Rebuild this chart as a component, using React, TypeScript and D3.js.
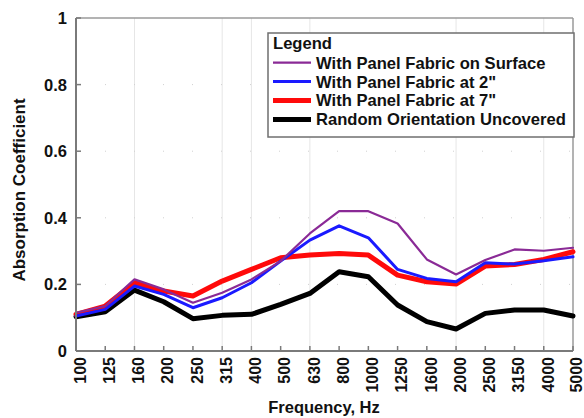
import React from "react";
import * as d3 from "d3";

const frequencies = ["100","125","160","200","250","315","400","500","630","800","1000","1250","1600","2000","2500","3150","4000","5000"];
const surface = [0.115,0.135,0.215,0.185,0.145,0.175,0.215,0.27,0.353,0.42,0.42,0.383,0.275,0.23,0.273,0.305,0.301,0.31];
const at2in = [0.105,0.125,0.195,0.17,0.13,0.16,0.205,0.27,0.333,0.376,0.34,0.245,0.218,0.208,0.265,0.261,0.271,0.283];
const at7in = [0.11,0.135,0.205,0.18,0.165,0.21,0.245,0.28,0.288,0.293,0.288,0.228,0.208,0.201,0.255,0.26,0.275,0.298];
const uncovered = [0.103,0.118,0.183,0.148,0.097,0.107,0.11,0.14,0.173,0.238,0.223,0.138,0.088,0.066,0.113,0.123,0.123,0.105];
const yTicks = [0, 0.2, 0.4, 0.6, 0.8, 1];
const yTickLabels = ["0", "0.2", "0.4", "0.6", "0.8", "1"];
const xGridAt = ["160", "315", "400", "630", "2000", "4000"];

const seriesNames = [
  "With Panel Fabric on Surface",
  'With Panel Fabric at 2"',
  'With Panel Fabric at 7"',
  "Random Orientation Uncovered",
];

const W = 584, H = 418;
const left = 76, right = 573, top = 18, bottom = 351;
const font = "'Liberation Sans', Arial, sans-serif";

export default function App() {
  const x = d3.scalePoint<string>().domain(frequencies).range([left, right]);
  const y = d3.scaleLinear().domain([0, 1]).range([bottom, top]);
  const line = d3.line<number>().x((_, i) => x(frequencies[i]) as number).y((d) => y(d));

  const series = [
    { name: seriesNames[3], data: uncovered, color: "#000000", width: 5 },
    { name: seriesNames[2], data: at7in, color: "#ff0a0a", width: 5 },
    { name: seriesNames[1], data: at2in, color: "#1a1aff", width: 3 },
    { name: seriesNames[0], data: surface, color: "#8a2a96", width: 2.2 },
  ];
  const legendOrder = [series[3], series[2], series[1], series[0]];

  return (
    <svg width={W} height={H} style={{ position: "absolute", left: 0, top: 0, background: "#fff" }}>
      {xGridAt.map((f) => (
        <line key={f} x1={x(f)} x2={x(f)} y1={top} y2={bottom} stroke="#e6e6e6" strokeWidth={1} />
      ))}
      {yTicks.slice(1, -1).map((t) => (
        <line key={t} x1={left} x2={right} y1={y(t)} y2={y(t)} stroke="#d0d0d0" strokeWidth={1} strokeDasharray="1,28" />
      ))}
      <line x1={left} x2={right} y1={top} y2={top} stroke="#9a9a9a" strokeWidth={1.5} />
      <line x1={right} x2={right} y1={top} y2={bottom} stroke="#9a9a9a" strokeWidth={1.5} />
      {series.map((s) => (
        <path key={s.name} d={line(s.data) as string} fill="none" stroke={s.color} strokeWidth={s.width} strokeLinejoin="round" strokeLinecap="round" />
      ))}
      <line x1={left} x2={left} y1={top} y2={bottom} stroke="#7a7a7a" strokeWidth={2} />
      <line x1={left} x2={right} y1={bottom} y2={bottom} stroke="#7a7a7a" strokeWidth={2} />
      {yTicks.map((t, i) => (
        <g key={t}>
          <line x1={left} x2={left + 5} y1={y(t)} y2={y(t)} stroke="#7a7a7a" strokeWidth={1.5} />
          <text x={67} y={y(t)} dy="0.36em" textAnchor="end" fontFamily={font} fontWeight="bold" fontSize={16.5} fill="#111">
            {yTickLabels[i]}
          </text>
        </g>
      ))}
      {frequencies.map((f) => (
        <g key={f}>
          <line x1={x(f)} x2={x(f)} y1={bottom} y2={bottom - 5} stroke="#7a7a7a" strokeWidth={1.5} />
          <text
            transform={`translate(${Math.min((x(f) as number) + 4, 576)},${bottom + 6}) rotate(-90)`}
            dy="0.36em"
            textAnchor="end"
            fontFamily={font}
            fontWeight="bold"
            fontSize={16}
            fill="#111"
          >
            {f}
          </text>
        </g>
      ))}
      <text
        transform={`translate(19,${190}) rotate(-90)`}
        dy="0.36em"
        textAnchor="middle"
        fontFamily={font}
        fontWeight="bold"
        fontSize={17}
        fill="#111"
      >
        Absorption Coefficient
      </text>
      <text x={324} y={413} textAnchor="middle" fontFamily={font} fontWeight="bold" fontSize={16.5} fill="#111">
        Frequency, Hz
      </text>
      <rect x={268} y={33} width={306} height={104} fill="#fff" stroke="#6f6f6f" strokeWidth={1.5} />
      <text x={273} y={49} fontFamily={font} fontWeight="bold" fontSize={16.6} fill="#111">Legend</text>
      {legendOrder.map((s, i) => {
        const cy = 62.7 + i * 18.9;
        return (
          <g key={s.name}>
            <line x1={273} x2={311} y1={cy} y2={cy} stroke={s.color} strokeWidth={s.width} />
            <text x={316} y={cy} dy="0.36em" fontFamily={font} fontWeight="bold" fontSize={16.6} fill="#111">
              {s.name}
            </text>
          </g>
        );
      })}
    </svg>
  );
}
